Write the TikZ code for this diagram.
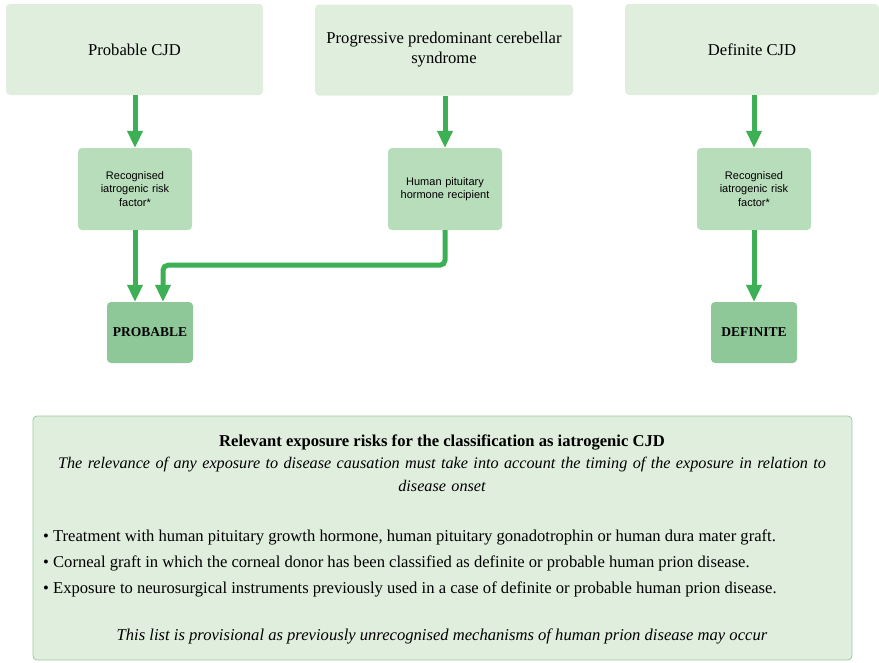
\documentclass[tikz,border=0pt]{standalone}
\usepackage{fontspec}
\setmainfont{Liberation Serif}
\newfontfamily\boxsans{Liberation Sans}
\usetikzlibrary{positioning,arrows.meta}
\definecolor{paleG}{HTML}{DFEEDD}
\definecolor{midG}{HTML}{B8DDBA}
\definecolor{darkG}{HTML}{8EC899}
\definecolor{lineG}{HTML}{3DAF55}
\definecolor{edgeG}{HTML}{9ACB9E}
\begin{document}
\begin{tikzpicture}[x=1pt, y=-1pt,
  topbox/.style={fill=paleG, rounded corners=4pt, minimum width=257pt, minimum height=91pt, align=center, font=\fontsize{16.6}{20}\selectfont, inner sep=0pt},
  midbox/.style={fill=midG, rounded corners=4pt, minimum width=114pt, minimum height=82pt, text width=100pt, align=center, font=\boxsans\fontsize{11}{13.5}\selectfont, inner sep=0pt},
  endbox/.style={fill=darkG, rounded corners=4pt, minimum width=86pt, minimum height=61pt, align=center, font=\bfseries\fontsize{13.5}{16}\selectfont, inner sep=0pt},
  txt/.style={font=\fontsize{16.6}{23}\selectfont, inner sep=0pt},
  flow/.style={draw=lineG, line width=5pt, -{Triangle[length=17pt, width=15pt]}},
  >=Stealth]
  \useasboundingbox (0,0) rectangle (879,662);
  % top row
  \node[topbox] (prcjd) at (134.5,49.5) {Probable CJD};
  \node[topbox, minimum width=258pt] (cereb) at (444,50) {Progressive predominant cerebellar\\syndrome};
  \node[topbox, minimum width=254pt] (defcjd) at (752,49.5) {Definite CJD};
  % middle row
  \node[midbox] (riskl) at (135,189) {Recognised\\iatrogenic risk\\factor*};
  \node[midbox] (hgh) at (445,189) {Human pituitary\\hormone recipient};
  \node[midbox] (riskr) at (754,189) {Recognised\\iatrogenic risk\\factor*};
  % outcomes
  \node[endbox] (prob) at (150,332.5) {PROBABLE};
  \node[endbox] (defi) at (754,332.5) {DEFINITE};
  % arrows
  \draw[flow] (prcjd.south -| riskl) -- (riskl.north);
  \draw[flow] (cereb.south -| hgh) -- (hgh.north);
  \draw[flow] (defcjd.south -| riskr) -- (riskr.north);
  \draw[flow] (riskl.south) -- (riskl.south |- prob.north);
  \draw[flow, rounded corners=5pt] (hgh.south) -- ++(0,35) -| ([xshift=13pt]prob.north);
  \draw[flow] (riskr.south) -- (defi.north);
  % exposure risks
  \draw[fill=paleG, draw=edgeG, line width=0.8pt, rounded corners=4pt] (33,416) rectangle (852,660);
  \node[txt, font=\bfseries\fontsize{16.6}{23}\selectfont] (head) at (442,442) {Relevant exposure risks for the classification as iatrogenic CJD};
  \node[txt, font=\itshape\fontsize{16.2}{23}\selectfont, text width=790pt, align=center, anchor=north] (note) at (442,457) {The relevance of any exposure to disease causation must take into account the timing of the exposure in relation to\\disease onset};
  \node[txt, anchor=west] (expa) at (43,537) {\textbullet\ Treatment with human pituitary growth hormone, human pituitary gonadotrophin or human dura mater graft.};
  \node[txt, anchor=west] (expb) at (43,563) {\textbullet\ Corneal graft in which the corneal donor has been classified as definite or probable human prion disease.};
  \node[txt, anchor=west] (expc) at (43,589) {\textbullet\ Exposure to neurosurgical instruments previously used in a case of definite or probable human prion disease.};
  \node[txt, font=\itshape\fontsize{16.6}{23}\selectfont] (prov) at (442,636) {This list is provisional as previously unrecognised mechanisms of human prion disease may occur};
\end{tikzpicture}
\end{document}
